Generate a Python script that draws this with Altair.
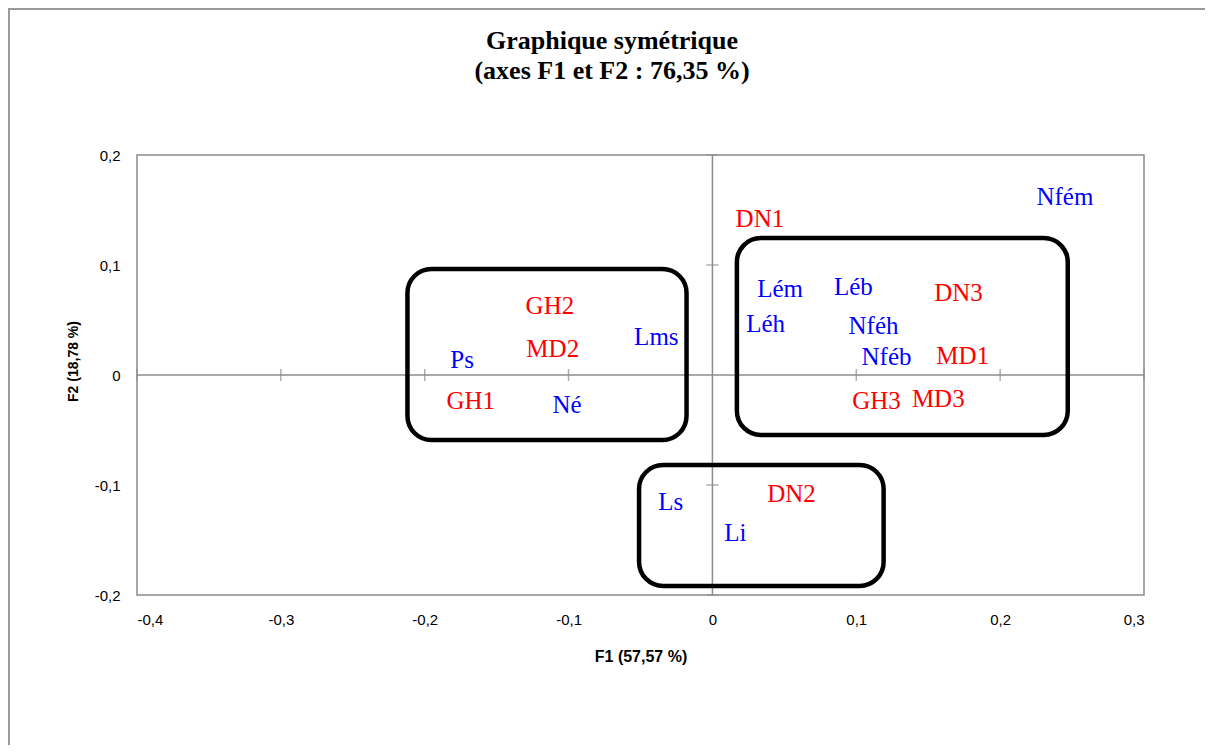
import altair as alt
import pandas as pd

# --- data ---
labels = ["Nfém", "DN1", "Lém", "Léb", "DN3", "Léh", "Nféh", "Nféb", "MD1", "GH3",
          "MD3", "GH2", "Lms", "MD2", "Ps", "GH1", "Né", "Ls", "DN2", "Li"]
f1 = [0.245, 0.033, 0.047, 0.098, 0.171, 0.037, 0.112, 0.121, 0.174, 0.114,
      0.157, -0.113, -0.039, -0.111, -0.174, -0.168, -0.101, -0.029, 0.055, 0.016]
f2 = [0.162, 0.142, 0.078, 0.080, 0.075, 0.046, 0.045, 0.016, 0.017, -0.024,
      -0.022, 0.063, 0.035, 0.024, 0.014, -0.024, -0.027, -0.115, -0.108, -0.144]
kind = ["Lignes", "Colonnes", "Lignes", "Lignes", "Colonnes", "Lignes", "Lignes", "Lignes",
        "Colonnes", "Colonnes", "Colonnes", "Colonnes", "Lignes", "Colonnes", "Lignes",
        "Colonnes", "Lignes", "Lignes", "Colonnes", "Lignes"]

# group boxes (data coordinates)
box_x1 = [-0.212, 0.017, -0.051]
box_x2 = [-0.018, 0.247, 0.119]
box_y1 = [0.0964, 0.1245, -0.0818]
box_y2 = [-0.0591, -0.0545, -0.1918]

x_ticks = [-0.4, -0.3, -0.2, -0.1, 0, 0.1, 0.2, 0.3]
y_ticks = [-0.2, -0.1, 0, 0.1, 0.2]

title_lines = ["Graphique symétrique", "(axes F1 et F2 : 76,35 %)"]

pts = pd.DataFrame({"label": labels, "F1": f1, "F2": f2, "kind": kind})
boxes = pd.DataFrame({"x1": box_x1, "x2": box_x2, "y1": box_y1, "y2": box_y2})
xt = pd.DataFrame({"v": [t for t in x_ticks if t != 0], "z": 0})
yt = pd.DataFrame({"v": [t for t in y_ticks if t != 0], "z": 0})
zero = pd.DataFrame({"z": [0]})

W, H = 1007, 440
GREY = "#8c8c8c"
label_expr = "replace(replace(format(datum.value, '.1~f'), '.', ','), '\u2212', '-')"

xscale = alt.Scale(domain=[-0.4, 0.3], nice=False, zero=False)
yscale = alt.Scale(domain=[-0.2, 0.2], nice=False, zero=False)

xaxis = alt.Axis(values=x_ticks, labelExpr=label_expr, grid=False, domain=False, ticks=False,
                 tickSize=0, labelPadding=17, labelFont="Liberation Sans", labelFontSize=15,
                 labelColor="#000000", title="F1 (57,57 %)", titleFont="Liberation Sans",
                 titleFontSize=16, titleFontWeight="bold", titleColor="#000000",
                 titleY=61, titleBaseline="middle")
yaxis = alt.Axis(values=y_ticks, labelExpr=label_expr, grid=False, domain=False, ticks=False,
                 tickSize=0, labelPadding=17, labelFont="Liberation Sans", labelFontSize=15,
                 labelColor="#000000", title="F2 (18,78 %)", titleFont="Liberation Sans",
                 titleFontSize=14, titleFontWeight="bold", titleColor="#000000",
                 titleX=-64, titleY=206, titleBaseline="middle", titleAlign="center")

# outer chart frame (decoration, in pixels relative to the plot area)
border = alt.Chart(zero).mark_rect(fill=None, stroke="#9a9a9a", strokeWidth=2).encode(
    x=alt.value(-128), x2=alt.value(W + 200), y=alt.value(-146), y2=alt.value(H + 300)
)


# chart title, drawn as text lines centred on the whole chart
def title_line(txt, ypix):
    return alt.Chart(pd.DataFrame({"t": [txt]})).mark_text(
        font="Liberation Serif", fontSize=26, fontWeight="bold", align="center",
        baseline="alphabetic", color="#000000"
    ).encode(text="t:N", x=alt.value(475), y=alt.value(ypix))


title1 = title_line(title_lines[0], -106)
title2 = title_line(title_lines[1], -76)

vline = alt.Chart(zero).mark_rule(color=GREY, strokeWidth=1.5).encode(
    x=alt.X("z:Q", scale=xscale, axis=xaxis)
)
hline = alt.Chart(zero).mark_rule(color=GREY, strokeWidth=1.5).encode(
    y=alt.Y("z:Q", scale=yscale, axis=yaxis)
)
xtk = alt.Chart(xt).mark_tick(orient="vertical", color=GREY, size=12, thickness=1.5).encode(
    x=alt.X("v:Q", scale=xscale), y=alt.Y("z:Q", scale=yscale)
)
ytk = alt.Chart(yt).mark_tick(orient="horizontal", color=GREY, size=12, thickness=1.5).encode(
    x=alt.X("z:Q", scale=xscale), y=alt.Y("v:Q", scale=yscale)
)

rects = alt.Chart(boxes).mark_rect(fill=None, stroke="#000000", strokeWidth=4.5,
                                   cornerRadius=24).encode(
    x=alt.X("x1:Q", scale=xscale), x2="x2:Q",
    y=alt.Y("y1:Q", scale=yscale), y2="y2:Q"
)

texts = alt.Chart(pts).mark_text(font="Liberation Serif", fontSize=25, align="center",
                                 baseline="middle").encode(
    x=alt.X("F1:Q", scale=xscale), y=alt.Y("F2:Q", scale=yscale), text="label:N",
    color=alt.Color("kind:N", scale=alt.Scale(domain=["Lignes", "Colonnes"],
                                              range=["#0000FF", "#FF0000"]), legend=None)
)

chart = alt.layer(border, vline, hline, xtk, ytk, rects, texts, title1, title2).properties(
    width=W, height=H,
    autosize=alt.AutoSizeParams(type="none"),
    padding={"left": 129, "top": 147, "right": 61, "bottom": 150},
).configure_view(stroke=GREY, strokeWidth=1.5)

chart.save("out.html", embed_options={"renderer": "svg", "actions": False})
